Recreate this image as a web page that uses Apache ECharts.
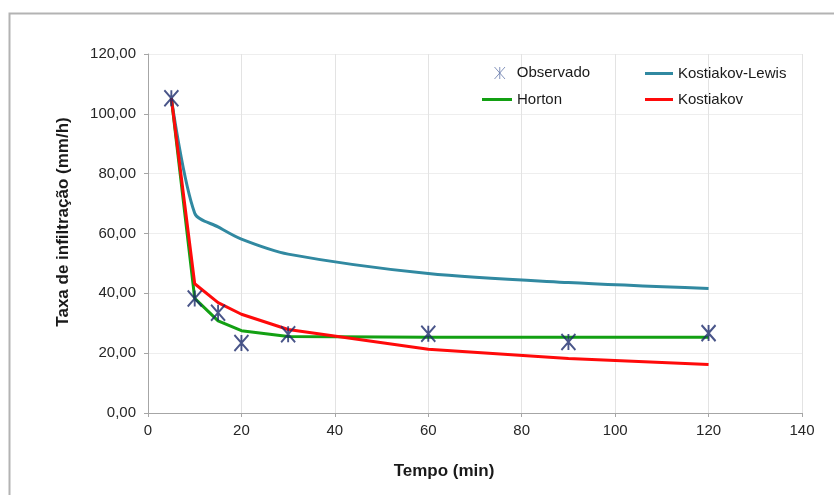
<!DOCTYPE html>
<html>
<head>
<meta charset="utf-8">
<script src="https://cdn.jsdelivr.net/npm/echarts@6/dist/echarts.min.js"></script>
<style>html,body{margin:0;padding:0;background:#fff}#c{width:834px;height:495px}</style>
</head>
<body>
<div id="c"></div>
<script>
var tempo = [5, 10, 15, 20, 30, 60, 90, 120];
var observado = [105.2, 38.3, 33.5, 23.4, 26.3, 26.5, 23.7, 26.7];
var horton = [105.2, 38.3, 30.8, 27.5, 25.6, 25.3, 25.3, 25.3];
var kostiakov = [105.2, 43.2, 36.9, 33.0, 27.9, 21.3, 18.2, 16.2];
var kostiakovLewis = [105.2, 66.8, 62.2, 58.1, 53.1, 46.6, 43.6, 41.6];

function pairs(xs, ys) { return xs.map(function (x, i) { return [x, ys[i]]; }); }

var font = '"Liberation Sans", Arial, sans-serif';
var star = 'path://M0 0L14 16M14 0L0 16M7 0L7 16';

var chart = echarts.init(document.getElementById('c'), null, {renderer: 'canvas'});
function legendFor(name, left, top, w, h, extra) {
  var o = {
    data: [name], left: left, top: top, itemWidth: w, itemHeight: h, padding: 0,
    itemGap: 0, textStyle: {fontFamily: font, fontSize: 15, color: '#1a1a1a'}, selectedMode: false
  };
  for (var k in extra) o[k] = extra[k];
  return o;
}
chart.setOption({
  animation: false,
  backgroundColor: '#fff',
  grid: {left: 148, right: 32, top: 54, bottom: 82},
  graphic: [
    {type: 'rect', shape: {x: 9.5, y: 13.5, width: 900, height: 600}, style: {fill: 'none', stroke: '#b3b3b3', lineWidth: 2}, silent: true, z: -10},
    {type: 'text', x: 63, y: 222, rotation: Math.PI / 2, style: {text: 'Taxa de infiltração (mm/h)', font: 'bold 17px ' + font, fill: '#1a1a1a', align: 'center', verticalAlign: 'middle'}},
    {type: 'text', x: 444, y: 471, style: {text: 'Tempo (min)', font: 'bold 17px ' + font, fill: '#1a1a1a', align: 'center', verticalAlign: 'middle'}}
  ],
  legend: [
    legendFor('Observado', 492, 64.5, 24, 12, {data: [{name: 'Observado', icon: star, itemStyle: {color: 'none', borderColor: '#6579ab', borderWidth: 1}}]}),
    legendFor('Kostiakov-Lewis', 645, 66, 28, 3, {icon: 'rect'}),
    legendFor('Horton', 482, 92, 30, 3, {icon: 'rect'}),
    legendFor('Kostiakov', 645, 92, 28, 3, {icon: 'rect'})
  ],
  xAxis: {
    type: 'value', min: 0, max: 140, interval: 20,
    axisLine: {lineStyle: {color: '#a6a6a6', width: 1}},
    axisTick: {show: true, length: 4, lineStyle: {color: '#a6a6a6'}},
    axisLabel: {fontFamily: font, fontSize: 15, color: '#262626', margin: 10},
    splitLine: {show: true, lineStyle: {color: '#e3e3e3', width: 1}}
  },
  yAxis: {
    type: 'value', min: 0, max: 120, interval: 20,
    axisLine: {show: true, lineStyle: {color: '#a6a6a6', width: 1}},
    axisTick: {show: true, length: 4, lineStyle: {color: '#a6a6a6'}},
    axisLabel: {fontFamily: font, fontSize: 15, color: '#262626', margin: 12,
      formatter: function (v) { return v.toFixed(2).replace('.', ','); }},
    splitLine: {show: true, lineStyle: {color: '#eeeeee', width: 1}}
  },
  series: [
    {name: 'Kostiakov-Lewis', type: 'line', data: pairs(tempo, kostiakovLewis), smooth: 0.3, showSymbol: false,
      lineStyle: {color: '#3189a1', width: 3}, itemStyle: {color: '#3189a1'}},
    {name: 'Horton', type: 'line', data: pairs(tempo, horton), showSymbol: false,
      lineStyle: {color: '#13a013', width: 3}, itemStyle: {color: '#13a013'}},
    {name: 'Kostiakov', type: 'line', data: pairs(tempo, kostiakov), showSymbol: false,
      lineStyle: {color: '#ff0a0a', width: 3}, itemStyle: {color: '#ff0a0a'}},
    {name: 'Observado', type: 'scatter', data: pairs(tempo, observado), symbol: star, symbolSize: [14, 16],
      itemStyle: {color: 'none', borderColor: '#1b2a6b', borderWidth: 2}, z: 5}
  ]
});
</script>
</body>
</html>
